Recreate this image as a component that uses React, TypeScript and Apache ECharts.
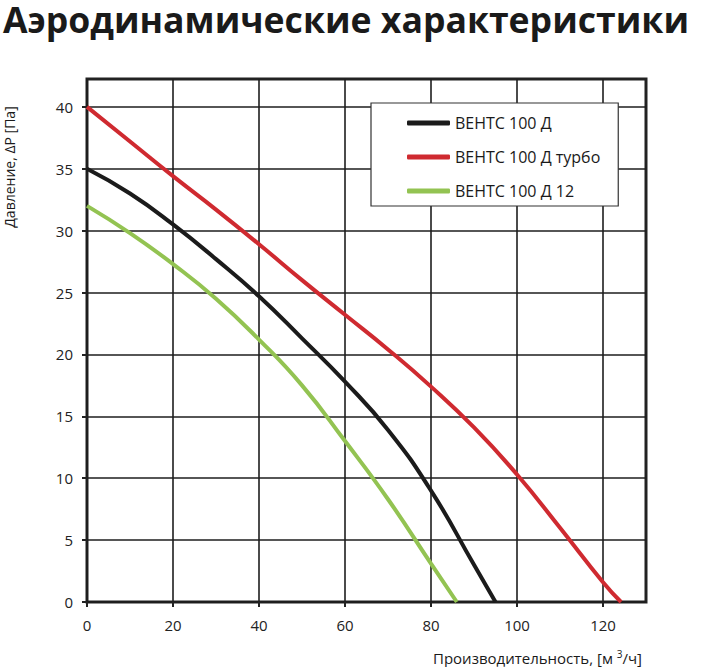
import React, { useEffect, useRef } from "react";
import * as echarts from "echarts";

const TITLE = "Аэродинамические характеристики";
const SERIES_NAMES = ["ВЕНТС 100 Д", "ВЕНТС 100 Д турбо", "ВЕНТС 100 Д 12"];

const blackX = [0, 10, 20, 30, 40, 50, 60, 70, 80, 90, 95];
const blackY = [35, 33.0, 30.5, 27.7, 24.7, 21.3, 17.8, 13.9, 9.0, 3.0, 0];

const redX = [0, 10, 20, 30, 40, 50, 60, 70, 80, 90, 100, 110, 120, 124.2];
const redY = [40, 37.2, 34.4, 31.7, 28.9, 26.0, 23.2, 20.4, 17.4, 14.1, 10.3, 6.0, 1.6, 0];

const greenX = [0, 10, 20, 30, 40, 50, 60, 70, 80, 86];
const greenY = [32, 29.8, 27.3, 24.5, 21.2, 17.5, 13.0, 8.3, 3.1, 0];

const xTickLabels = [0, 20, 40, 60, 80, 100, 120];
const yTickLabels = [0, 5, 10, 15, 20, 25, 30, 35, 40];

const COLORS = ["#1b1b1b", "#cf2a30", "#93c352"];
const FONT = "'Open Sans', 'Noto Sans', sans-serif";

const zip = (xs: number[], ys: number[]) => xs.map((x, i) => [x, ys[i]]);

export default function App() {
  const ref = useRef<HTMLDivElement>(null);
  useEffect(() => {
    if (!ref.current) return;
    const chart = echarts.init(ref.current, null, { renderer: "svg" });
    const datasets = [zip(blackX, blackY), zip(redX, redY), zip(greenX, greenY)];
    chart.setOption({
      animation: false,
      backgroundColor: "#ffffff",
      textStyle: { fontFamily: FONT },
      grid: {
        left: 87,
        top: 79,
        right: 66,
        bottom: 65,
        show: true,
        borderColor: "#222",
        borderWidth: 3,
        backgroundColor: "transparent",
      },
      legend: {
        left: 371,
        top: 103,
        orient: "vertical",
        backgroundColor: "#fff",
        borderColor: "#333",
        borderWidth: 1.2,
        borderRadius: 0,
        padding: [11, 18, 6, 36],
        itemWidth: 43,
        itemHeight: 5,
        itemGap: 16,
        icon: "roundRect",
        textStyle: { fontSize: 16, color: "#1a1a1a", fontFamily: FONT, lineHeight: 18 },
        data: SERIES_NAMES,
      },
      xAxis: {
        type: "value",
        min: 0,
        max: 130,
        interval: 10,
        axisLine: { show: false },
        axisTick: {
          show: true,
          customValues: xTickLabels,
          length: 5,
          lineStyle: { color: "#222", width: 2 },
        },
        axisLabel: {
          customValues: xTickLabels,
          fontSize: 15,
          color: "#222",
          margin: 15,
          fontFamily: FONT,
        },
        splitLine: { show: true, lineStyle: { color: "#1e1e1e", width: 1.6 } },
      },
      yAxis: {
        type: "value",
        min: 0,
        max: 42.25,
        interval: 2.5,
        axisLine: { show: false },
        axisTick: {
          show: true,
          customValues: yTickLabels,
          length: 5,
          lineStyle: { color: "#222", width: 2 },
        },
        axisLabel: {
          customValues: yTickLabels,
          fontSize: 15,
          color: "#222",
          margin: 14,
          fontFamily: FONT,
        },
        splitLine: { show: true, lineStyle: { color: "#1e1e1e", width: 1.6 } },
      },
      graphic: [
        {
          type: "text",
          left: 3,
          top: 1,
          style: {
            text: TITLE,
            font: `bold 35.6px ${FONT}`,
            lineHeight: 30,
            fill: "#1a1a1a",
          },
        },
        {
          type: "text",
          x: 9,
          y: 167,
          rotation: Math.PI / 2,
          style: {
            text: "Давление, ΔP [Па]",
            font: `14px ${FONT}`,
            fill: "#1a1a1a",
            align: "center",
            verticalAlign: "middle",
          },
        },
        {
          type: "text",
          x: 642,
          y: 658,
          style: {
            text: "{a|Производительность, [м }{s|3}{a|/ч]}",
            align: "right",
            verticalAlign: "middle",
            rich: {
              a: { font: `15px ${FONT}`, fill: "#1a1a1a" },
              s: { font: `10px ${FONT}`, fill: "#1a1a1a", verticalAlign: "top", padding: [0, 0, 8, 0] },
            },
          },
        },
      ],
      series: SERIES_NAMES.map((name, i) => ({
        name,
        type: "line",
        data: datasets[i],
        smooth: 0.5,
        showSymbol: false,
        symbol: "none",
        lineStyle: { color: COLORS[i], width: 4 },
        itemStyle: { color: COLORS[i] },
        z: 3 + i,
      })),
    });
    return () => chart.dispose();
  }, []);
  return (
    <div
      ref={ref}
      style={{ position: "fixed", left: 0, top: 0, width: 712, height: 667, background: "#fff" }}
    />
  );
}
